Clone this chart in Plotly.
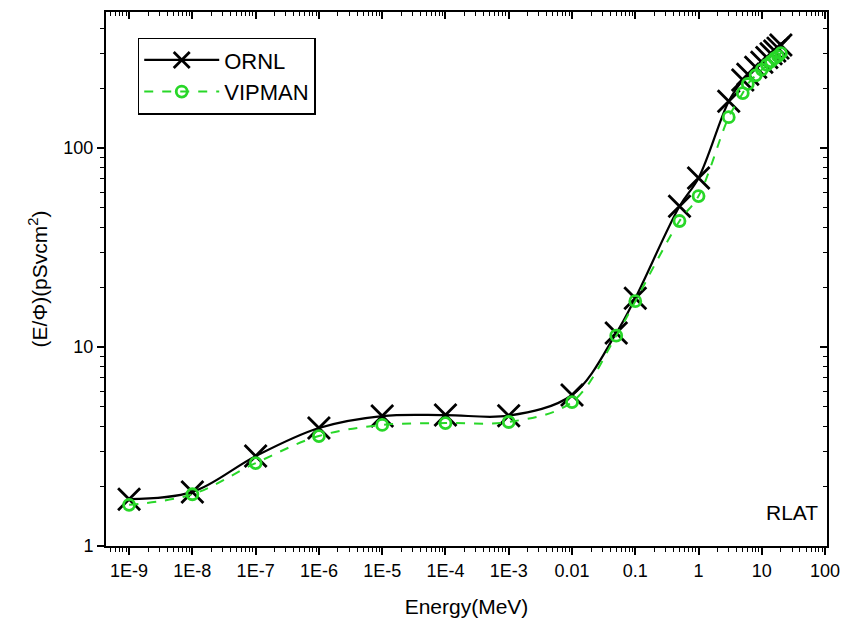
import plotly.graph_objects as go

energy = [1e-9, 1e-8, 1e-7, 1e-6, 1e-5, 1e-4, 1e-3, 0.01, 0.05, 0.1, 0.5, 1, 3, 5, 6, 8, 10, 12, 14, 16, 18, 20]
ornl = [1.72, 1.87, 2.83, 3.92, 4.50, 4.55, 4.52, 5.74, 11.75, 17.6, 51, 70.7, 172, 220, 235, 255, 270, 285, 298, 308, 318, 330]
vipman = [1.61, 1.82, 2.61, 3.57, 4.06, 4.15, 4.20, 5.29, 11.4, 17.0, 43, 57.4, 143, 189, 210, 232, 248, 262, 273, 283, 290, 300]

x_tickvals = [1e-9, 1e-8, 1e-7, 1e-6, 1e-5, 1e-4, 1e-3, 0.01, 0.1, 1, 10, 100]
x_ticktext = ["1E-9", "1E-8", "1E-7", "1E-6", "1E-5", "1E-4", "1E-3", "0.01", "0.1", "1", "10", "100"]
y_tickvals = [1, 10, 100]
y_ticktext = ["1", "10", "100"]

green = "rgb(40,215,40)"
font = "Arial, Liberation Sans, sans-serif"

fig = go.Figure()
fig.add_trace(go.Scatter(
    x=energy, y=ornl, name="ORNL", mode="lines+markers",
    line=dict(color="black", width=2.2, shape="spline", smoothing=1.0),
    marker=dict(symbol="x-thin-open", size=22, line=dict(color="black", width=2.8), color="black"),
))
fig.add_trace(go.Scatter(
    x=energy, y=vipman, name="VIPMAN", mode="lines+markers",
    line=dict(color=green, width=2, dash="dash", shape="spline", smoothing=1.0),
    marker=dict(symbol="circle-open", size=11, line=dict(color=green, width=2.8), color=green),
))
# helper trace so the top/right axes are drawn
fig.add_trace(go.Scatter(
    x=energy, y=ornl, xaxis="x2", yaxis="y2", mode="lines",
    line=dict(width=0), opacity=0, showlegend=False, hoverinfo="skip",
))

xr = [-9.365, 2.03]
yr = [0, 2.684]

minor_out = dict(ticks="outside", ticklen=4, tickwidth=1, tickcolor="black", showgrid=False, dtick="D1")
minor_in = dict(ticks="inside", ticklen=4, tickwidth=1, tickcolor="black", showgrid=False, dtick="D1")

fig.update_layout(
    width=848, height=630,
    margin=dict(l=98, r=29, t=4, b=92, autoexpand=False),
    paper_bgcolor="white", plot_bgcolor="white",
    font=dict(family=font, size=18, color="black"),
    showlegend=True,
    legend=dict(
        x=0.044, y=0.952, xanchor="left", yanchor="top",
        bordercolor="black", borderwidth=1.5, bgcolor="white",
        font=dict(size=22, family=font), itemwidth=75,
        tracegroupgap=0,
    ),
    xaxis=dict(
        type="log", range=xr, tickvals=x_tickvals, ticktext=x_ticktext,
        ticks="outside", ticklen=7, tickwidth=1.5, tickcolor="black",
        showline=True, mirror=True, linecolor="black", linewidth=2, showgrid=False, zeroline=False,
        minor=minor_out,
        title=dict(text="Energy(MeV)", font=dict(size=21, family=font), standoff=20),
        tickfont=dict(size=18, family=font), automargin=False,
    ),
    yaxis=dict(
        type="log", range=yr, tickvals=y_tickvals, ticktext=y_ticktext,
        ticks="outside", ticklen=7, tickwidth=1.5, tickcolor="black",
        showline=True, mirror=True, linecolor="black", linewidth=2, showgrid=False, zeroline=False,
        minor=minor_out,
        title=dict(text="(E/Φ)(pSvcm<sup>2</sup>)", font=dict(size=21, family=font), standoff=10),
        tickfont=dict(size=18, family=font), automargin=False,
    ),
    xaxis2=dict(
        type="log", range=xr, overlaying="x", side="top", tickvals=x_tickvals,
        showticklabels=False, ticks="inside", ticklen=7, tickwidth=1.5, tickcolor="black",
        showline=True, linecolor="black", linewidth=2, showgrid=False, zeroline=False,
        minor=minor_in, automargin=False,
    ),
    yaxis2=dict(
        type="log", range=yr, overlaying="y", side="right", tickvals=y_tickvals,
        showticklabels=False, ticks="inside", ticklen=7, tickwidth=1.5, tickcolor="black",
        showline=True, linecolor="black", linewidth=2, showgrid=False, zeroline=False,
        minor=minor_in, automargin=False,
    ),
    annotations=[dict(
        text="RLAT", xref="paper", yref="paper", x=0.99, y=0.038,
        xanchor="right", yanchor="bottom", showarrow=False,
        font=dict(size=21, family=font, color="black"),
    )],
)

fig.write_html("out.html")
